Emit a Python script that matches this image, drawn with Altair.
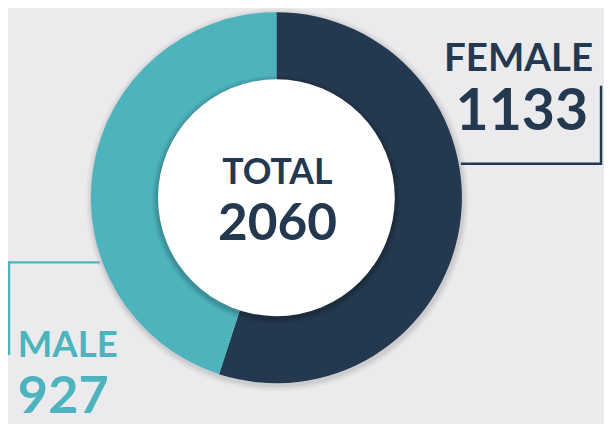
import altair as alt
import pandas as pd

categories = ["FEMALE", "MALE"]
values = [1133, 927]
colors = ["#24384f", "#4db3bd"]
total = sum(values)

df = pd.DataFrame({"category": categories, "value": values, "order": [0, 1]})
one = pd.DataFrame({"k": [0]})

CX, CY = 272, 189.5
R_OUT, R_IN = 188, 120
BG = "#ebebee"
FONT = "Lato"
FW = "bold"

base_pos = dict(x=alt.value(CX), y=alt.value(CY))

layers = []
# soft outer shadow
for r, op in [(194, 0.03), (192, 0.04), (190, 0.06)]:
    layers.append(
        alt.Chart(one).mark_arc(theta=0, theta2=6.2832, radius=r, color="#000000", opacity=op)
        .encode(x=alt.value(CX + 1), y=alt.value(CY + 2))
    )

donut = alt.Chart(df).mark_arc(radius=R_OUT, radius2=R_IN - 2, stroke=None).encode(
    theta=alt.Theta("value:Q", stack=True),
    order=alt.Order("order:Q"),
    color=alt.Color("category:N", scale=alt.Scale(domain=categories, range=colors), legend=None),
    **base_pos,
)
layers.append(donut)

# inner shadow around the white circle
for r, op in [(126, 0.05), (124, 0.07), (122, 0.09)]:
    layers.append(
        alt.Chart(one).mark_arc(theta=0, theta2=6.2832, radius=r, color="#000000", opacity=op)
        .encode(x=alt.value(CX), y=alt.value(CY + 2))
    )
layers.append(
    alt.Chart(one).mark_arc(theta=0, theta2=6.2832, radius=R_IN, color="#ffffff")
    .encode(**base_pos)
)

tdf = pd.DataFrame({"t": ["TOTAL"], "n": [str(total)]})
layers.append(alt.Chart(tdf).mark_text(font=FONT, fontWeight=FW, fontSize=36, color=colors[0],
                                       align="center", baseline="alphabetic")
              .encode(text="t:N", x=alt.value(CX + 1), y=alt.value(176)))
layers.append(alt.Chart(tdf).mark_text(font=FONT, fontWeight=FW, fontSize=52, color=colors[0],
                                       align="center", baseline="alphabetic")
              .encode(text="n:N", x=alt.value(CX + 1), y=alt.value(232)))

# connector lines
lw = 2.5
layers.append(alt.Chart(one).mark_rule(color=colors[0], strokeWidth=lw)
              .encode(x=alt.value(459), x2=alt.value(602), y=alt.value(155)))
layers.append(alt.Chart(one).mark_rule(color=colors[0], strokeWidth=lw)
              .encode(x=alt.value(601), y=alt.value(76), y2=alt.value(156)))
layers.append(alt.Chart(one).mark_rule(color=colors[1], strokeWidth=lw)
              .encode(x=alt.value(0), x2=alt.value(93), y=alt.value(255)))
layers.append(alt.Chart(one).mark_rule(color=colors[1], strokeWidth=lw)
              .encode(x=alt.value(1), y=alt.value(254), y2=alt.value(349)))

fdf = pd.DataFrame({"c": [categories[0]], "v": [str(values[0])]})
mdf = pd.DataFrame({"c": [categories[1]], "v": [str(values[1])]})
layers.append(alt.Chart(fdf).mark_text(font=FONT, fontWeight=FW, fontSize=39, color=colors[0],
                                       align="right", baseline="alphabetic")
              .encode(text="c:N", x=alt.value(593), y=alt.value(61)))
layers.append(alt.Chart(fdf).mark_text(font=FONT, fontWeight=FW, fontSize=58, color=colors[0],
                                       align="right", baseline="alphabetic")
              .encode(text="v:N", x=alt.value(588), y=alt.value(121)))
layers.append(alt.Chart(mdf).mark_text(font=FONT, fontWeight=FW, fontSize=37, color=colors[1],
                                       align="left", baseline="alphabetic")
              .encode(text="c:N", x=alt.value(10), y=alt.value(351)))
layers.append(alt.Chart(mdf).mark_text(font=FONT, fontWeight=FW, fontSize=53, color=colors[1],
                                       align="left", baseline="alphabetic")
              .encode(text="v:N", x=alt.value(10), y=alt.value(408)))

chart = alt.layer(*layers).properties(
    width=604, height=416, padding=0, autosize="none", background=BG
).configure_view(stroke=None)

chart.save("out.html", embed_options={"renderer": "svg", "actions": False})
